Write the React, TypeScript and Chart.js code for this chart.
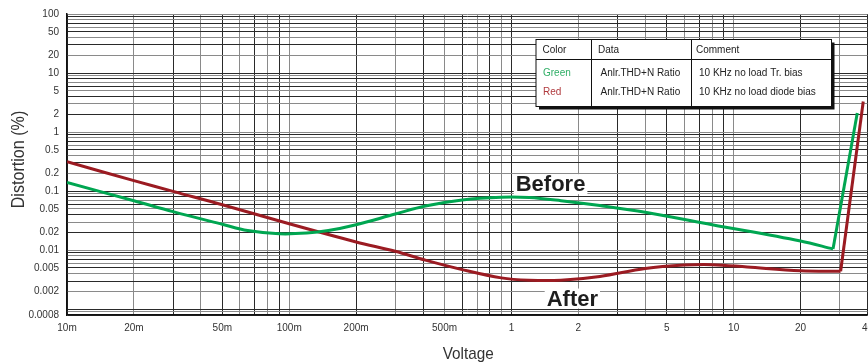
import React, { useEffect, useRef } from "react";
import { Chart, registerables } from "chart.js";

Chart.register(...registerables);

// ---- Data ----
const xTickValues = [0.01, 0.02, 0.05, 0.1, 0.2, 0.5, 1, 2, 5, 10, 20, 40];
const xTickLabels = ["10m", "20m", "50m", "100m", "200m", "500m", "1", "2", "5", "10", "20", "40"];
const yTickValues = [100, 50, 20, 10, 5, 2, 1, 0.5, 0.2, 0.1, 0.05, 0.02, 0.01, 0.005, 0.002, 0.0008];
const yTickLabels = ["100", "50", "20", "10", "5", "2", "1", "0.5", "0.2", "0.1", "0.05", "0.02", "0.01", "0.005", "0.002", "0.0008"];

const xMin = 0.01;
const xMax = 40;
const yMin = 0.0008;
const yMax = 100;

// Green: "Before" (Tr. bias)
const greenVoltage = [0.01, 0.02, 0.03, 0.05, 0.065, 0.09, 0.12, 0.15, 0.2, 0.3, 0.41, 0.6, 0.9, 1.2, 1.67, 2.5, 4, 8, 20, 28, 36];
const greenDistortion = [0.14, 0.069, 0.045, 0.0275, 0.0215, 0.019, 0.0195, 0.0215, 0.027, 0.041, 0.056, 0.071, 0.079, 0.078, 0.069, 0.057, 0.044, 0.027, 0.0143, 0.0105, 2.1];

// Red: "After" (diode bias)
const redVoltage = [0.01, 0.02, 0.03, 0.05, 0.1, 0.2, 0.3, 0.41, 0.6, 0.9, 1.2, 1.67, 2.5, 4, 6, 8, 11.5, 20, 30.3, 38.3];
const redDistortion = [0.315, 0.151, 0.099, 0.059, 0.028, 0.0138, 0.0096, 0.0068, 0.0047, 0.0034, 0.0031, 0.0031, 0.0036, 0.0049, 0.0056, 0.0057, 0.0052, 0.0045, 0.0044, 3.3];

const legendHeader = ["Color", "Data", "Comment"];
const legendRows = [
  ["Green", "Anlr.THD+N Ratio", "10 KHz no load Tr. bias"],
  ["Red", "Anlr.THD+N Ratio", "10 KHz no load diode bias"],
];

const beforeLabel = { text: "Before", v: 1.5, d: 0.1315 };
const afterLabel = { text: "After", v: 1.88, d: 0.00152 };

// ---- Styling ----
const GREEN = "#00a651";
const RED = "#9b1b22";
const FONT = '"Liberation Sans", Arial, Helvetica, sans-serif';

function logGrid(min: number, max: number): number[] {
  const out: number[] = [];
  const e0 = Math.floor(Math.log10(min)) - 1;
  const e1 = Math.ceil(Math.log10(max)) + 1;
  for (let e = e0; e <= e1; e++) {
    for (let m = 1; m <= 9; m++) {
      const v = Number((m * Math.pow(10, e)).toPrecision(6));
      if (v >= min * 0.9999 && v <= max * 1.0001) out.push(v);
    }
  }
  return out;
}

function labelFor(value: number, values: number[], labels: string[]): string {
  for (let i = 0; i < values.length; i++) {
    if (Math.abs(Math.log10(value) - Math.log10(values[i])) < 1e-6) return labels[i];
  }
  return "";
}

function toPoints(xs: number[], ys: number[]) {
  return xs.map((x, i) => ({ x, y: ys[i] }));
}

const gridColor = (ctx: any) => (ctx.index % 2 === 0 ? "#2a2a2a" : "#8a8a8a");

const overlayPlugin = {
  id: "overlay",
  afterDraw(chart: any) {
    const ctx: CanvasRenderingContext2D = chart.ctx;
    const xs = chart.scales.x;
    const ys = chart.scales.y;
    const area = chart.chartArea;
    ctx.save();

    // Axis titles
    ctx.fillStyle = "#333";
    ctx.textAlign = "center";
    ctx.textBaseline = "alphabetic";
    ctx.font = `17px ${FONT}`;
    ctx.save();
    ctx.translate((area.left + area.right) / 2 + 1, area.bottom + 44);
    ctx.scale(0.9, 1);
    ctx.fillText("Voltage", 0, 0);
    ctx.restore();

    ctx.save();
    ctx.font = `17.5px ${FONT}`;
    ctx.translate(24, (area.top + area.bottom) / 2 - 5);
    ctx.rotate(-Math.PI / 2);
    ctx.scale(0.92, 1);
    ctx.fillText("Distortion (%)", 0, 0);
    ctx.restore();

    // Before / After labels with white backing
    ctx.font = `bold 22px ${FONT}`;
    ctx.textBaseline = "middle";
    for (const lab of [beforeLabel, afterLabel]) {
      const cx = xs.getPixelForValue(lab.v);
      const cy = ys.getPixelForValue(lab.d);
      const w = ctx.measureText(lab.text).width;
      ctx.fillStyle = "#fff";
      ctx.fillRect(cx - w / 2 - 2, cy - 10, w + 4, 20);
      ctx.fillStyle = "#1e1e1e";
      ctx.fillText(lab.text, cx, cy + 1);
    }

    // Legend table
    const x0 = 536, y0 = 39.5, x1 = 831.5, y1 = 106.5;
    const colX = [591.5, 691.5];
    const headY = 59.5;
    ctx.fillStyle = "#111";
    ctx.fillRect(x0 + 3, y0 + 3, x1 - x0, y1 - y0);
    ctx.fillStyle = "#fff";
    ctx.fillRect(x0, y0, x1 - x0, y1 - y0);
    ctx.strokeStyle = "#111";
    ctx.lineWidth = 1;
    ctx.strokeRect(x0, y0, x1 - x0, y1 - y0);
    ctx.beginPath();
    ctx.moveTo(x0, headY);
    ctx.lineTo(x1, headY);
    for (const cxp of colX) {
      ctx.moveTo(cxp, y0);
      ctx.lineTo(cxp, y1);
    }
    ctx.stroke();

    ctx.font = `10px ${FONT}`;
    ctx.textAlign = "left";
    ctx.textBaseline = "middle";
    ctx.fillStyle = "#222";
    const headX = [542.5, 598, 696];
    legendHeader.forEach((t, i) => ctx.fillText(t, headX[i], 49.8));
    const rowX = [543, 600.5, 699];
    const rowY = [73, 92];
    const rowColors = ["#2fae66", "#b03a3e"];
    legendRows.forEach((row, r) => {
      row.forEach((t, i) => {
        ctx.fillStyle = i === 0 ? rowColors[r] : "#222";
        ctx.fillText(t, rowX[i], rowY[r]);
      });
    });

    ctx.restore();
  },
};

export default function App() {
  const ref = useRef<HTMLCanvasElement>(null);

  useEffect(() => {
    if (!ref.current) return;
    const xGrid = logGrid(xMin, xMax);
    const yGrid = logGrid(yMin, yMax);

    const lineCommon = {
      borderWidth: 3,
      pointRadius: 0,
      fill: false,
      showLine: true,
    };

    const chart = new Chart(ref.current, {
      type: "scatter",
      data: {
        datasets: [
          {
            ...lineCommon,
            label: "Green",
            data: toPoints(greenVoltage.slice(0, -1), greenDistortion.slice(0, -1)),
            borderColor: GREEN,
            tension: 0.35,
          },
          {
            ...lineCommon,
            label: "Green rise",
            data: toPoints(greenVoltage.slice(-2), greenDistortion.slice(-2)),
            borderColor: GREEN,
            tension: 0,
          },
          {
            ...lineCommon,
            label: "Red",
            data: toPoints(redVoltage.slice(0, -1), redDistortion.slice(0, -1)),
            borderColor: RED,
            tension: 0.35,
          },
          {
            ...lineCommon,
            label: "Red rise",
            data: toPoints(redVoltage.slice(-2), redDistortion.slice(-2)),
            borderColor: RED,
            tension: 0,
          },
        ] as any,
      },
      options: {
        animation: false,
        responsive: false,
        devicePixelRatio: 1,
        layout: { padding: { left: 0, right: 10, top: 12.5, bottom: 0 } },
        plugins: {
          legend: { display: false },
          tooltip: { enabled: false },
          title: { display: false },
        },
        scales: {
          x: {
            type: "logarithmic",
            min: xMin,
            max: xMax,
            afterBuildTicks: (scale: any) => {
              scale.ticks = xGrid.map((v) => ({ value: v }));
            },
            afterFit: (scale: any) => {
              scale.height = 47;
            },
            ticks: {
              autoSkip: false,
              maxRotation: 0,
              minRotation: 0,
              padding: 7,
              color: "#333",
              font: { family: FONT, size: 10 },
              callback: (value: any) => labelFor(Number(value), xTickValues, xTickLabels),
            },
            grid: { color: gridColor, lineWidth: 1, drawTicks: false },
            border: { display: true, color: "#111", width: 1.5 },
          },
          y: {
            type: "logarithmic",
            min: yMin,
            max: yMax,
            afterBuildTicks: (scale: any) => {
              scale.ticks = yGrid.map((v) => ({ value: v }));
            },
            afterFit: (scale: any) => {
              scale.width = 67;
            },
            ticks: {
              autoSkip: false,
              padding: 8,
              color: "#333",
              font: { family: FONT, size: 10 },
              callback: (value: any) => labelFor(Number(value), yTickValues, yTickLabels),
            },
            grid: { color: gridColor, lineWidth: 1, drawTicks: false },
            border: { display: true, color: "#111", width: 1.5 },
          },
        },
      } as any,
      plugins: [overlayPlugin],
    });

    return () => chart.destroy();
  }, []);

  return (
    <div
      style={{
        position: "fixed",
        left: 0,
        top: 0,
        width: 868,
        height: 362,
        overflow: "hidden",
        background: "#fff",
      }}
    >
      <canvas ref={ref} width={880} height={362} style={{ display: "block", width: 880, height: 362 }} />
    </div>
  );
}
